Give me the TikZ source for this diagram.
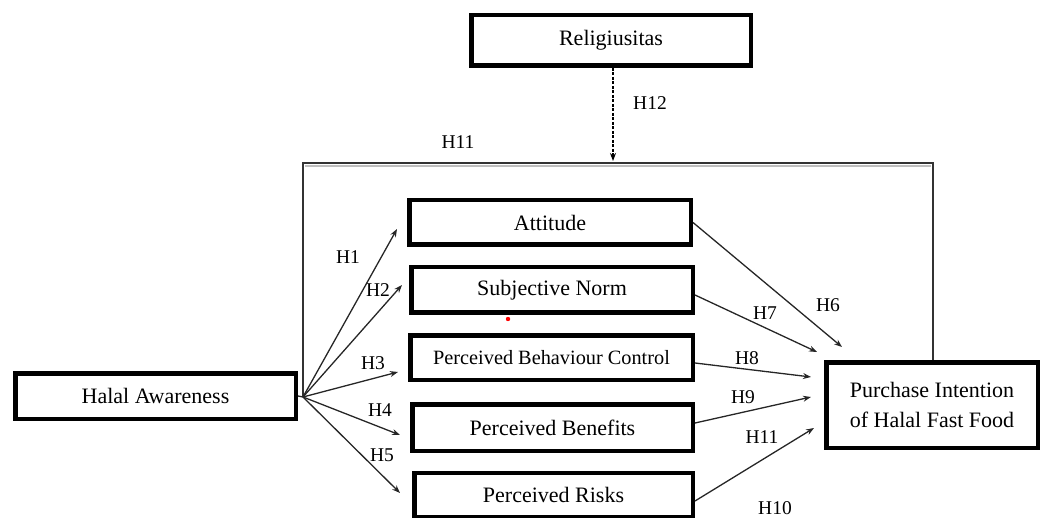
\documentclass[tikz,border=0pt]{standalone}
\usepackage{fontspec}
\setmainfont{Liberation Serif}
\usetikzlibrary{calc,arrows.meta}
\tikzset{
  box/.style={draw=black, line width=4.5pt, fill=white, inner sep=0pt, font=\fontsize{22}{30}\selectfont, align=center},
  lbl/.style={inner sep=0pt, font=\fontsize{19.5}{22}\selectfont},
  link/.style={line width=1.3pt, draw=black!85, -{Stealth[length=8pt,width=6pt]}},
  frame/.style={line width=1.6pt, draw=black!80},
}
\begin{document}
\begin{tikzpicture}[x=1pt,y=-1pt]
\useasboundingbox (0,0) rectangle (1043,518);
% boxes
\node[box, minimum width=279.5pt, minimum height=50.5pt] (rel) at (611,40.5) {Religiusitas};
\node[box, minimum width=281.5pt, minimum height=44.5pt] (att) at (550,222.5) {Attitude};
\node[box, minimum width=281.5pt, minimum height=45.5pt] (sn) at (552,290) {Subjective Norm};
\node[box, minimum width=282.5pt, minimum height=44.5pt, font=\fontsize{20.3}{24}\selectfont] (pbc) at (551.5,357.5) {Perceived Behaviour Control};
\node[box, minimum width=280.5pt, minimum height=46.5pt] (pb) at (552.5,427.5) {Perceived Benefits};
\node[box, minimum width=278.5pt, minimum height=44pt] (pr) at (553.5,495) {Perceived Risks};
\node[box, minimum width=280.5pt, minimum height=45.5pt] (ha) at (155.5,396) {Halal Awareness};
\node[box, minimum width=211.5pt, minimum height=85.5pt, align=left] (pi) at (932,405) {Purchase Intention\\of Halal Fast Food};
% coordinates
\coordinate (fan) at (303,397);
\coordinate (tr) at (933,163);
\coordinate (mod) at (613,161);
% outer frame (H11)
\draw[draw=black!25, line width=2pt] (305,166.5) -- (931,166.5);
\draw[frame] (fan) |- (tr) -- (tr |- pi.north);
% moderator
\draw[line width=1.1pt, dashed, dash pattern=on 3pt off 1.5pt, -{Stealth[length=8pt,width=6pt]}] (rel.south -| mod) -- (mod);
% fan from Halal Awareness
\draw[line width=1.3pt, draw=black!85] (ha.east) -- (fan);
\draw[link] (fan) -- ($(att.west)+(-10,6.5)$);
\draw[link] (fan) -- ($(sn.west)+(-7,-5)$);
\draw[link] (fan) -- ($(pbc.west)+(-10,14.5)$);
\draw[link] (fan) -- ($(pb.west)+(-10,7.5)$);
\draw[link] (fan) -- ($(pr.west)+(-12,-2)$);
% to Purchase Intention
\draw[link] (att.east) -- ($(pi.north west)+(18,-13)$);
\draw[link] ($(sn.east)+(0,5)$) -- ($(pi.north west)+(-7,-8)$);
\draw[link] ($(pbc.east)+(0,5.5)$) -- ($(pi.north west)+(-13,17)$);
\draw[link] ($(pb.east)+(0,-4.5)$) -- ($(pi.north west)+(-13,37)$);
\draw[link] ($(pr.east)+(0,6)$) -- ($(pi.north west)+(-10,68)$);
% red dot
\fill[red] (508,319) circle (2.2pt);
% labels
\node[lbl] (l11t) at (458,142) {H11};
\node[lbl] (l12) at (650,103) {H12};
\node[lbl] (l1) at (348,257) {H1};
\node[lbl] (l2) at (378,290) {H2};
\node[lbl] (l3) at (373,363) {H3};
\node[lbl] (l4) at (380,410) {H4};
\node[lbl] (l5) at (382,455) {H5};
\node[lbl] (l6) at (828,305) {H6};
\node[lbl] (l7) at (765,313) {H7};
\node[lbl] (l8) at (747,358) {H8};
\node[lbl] (l9) at (743,397) {H9};
\node[lbl] (l11) at (762,437) {H11};
\node[lbl] (l10) at (775,508) {H10};
\end{tikzpicture}
\end{document}
